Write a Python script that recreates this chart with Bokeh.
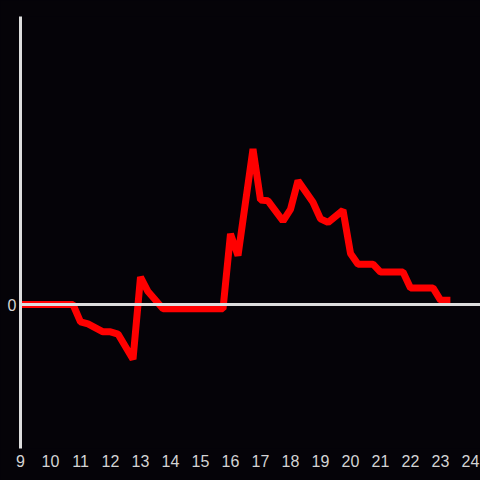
from bokeh.plotting import figure
from bokeh.models import Span, FixedTicker, Range1d
from bokeh.embed import file_html
from bokeh.resources import INLINE

# time of day (hours) and value
hours = [9.0, 10.75, 11.0, 11.25, 11.75, 12.0, 12.25, 12.75, 13.0, 13.25, 13.75,
         15.75, 16.0, 16.25, 16.75, 17.0, 17.25, 17.75, 18.0, 18.25, 18.75, 19.0,
         19.25, 19.75, 20.0, 20.25, 20.75, 21.0, 21.75, 22.0, 22.75, 23.0, 23.33]
values = [0.0, 0.0, -0.12, -0.135, -0.19, -0.19, -0.205, -0.38, 0.19, 0.09, -0.03,
          -0.03, 0.49, 0.34, 1.08, 0.725, 0.72, 0.58, 0.66, 0.86, 0.71, 0.595,
          0.57, 0.655, 0.355, 0.28, 0.28, 0.225, 0.225, 0.115, 0.115, 0.03, 0.03]
x_ticks = list(range(9, 25))
y_ticks = [0]

BG = "#050308"
AXIS = "#dddddd"
LABEL = "#d4d4d4"

p = figure(width=480, height=480, output_backend="svg", toolbar_location=None,
           x_range=Range1d(9, 24.3333), y_range=Range1d(-1, 2),
           min_border_left=20, min_border_right=0, min_border_top=16,
           min_border_bottom=32)
p.background_fill_color = BG
p.border_fill_color = BG
p.outline_line_color = None
p.grid.visible = False

p.add_layout(Span(location=0, dimension="width", line_color=AXIS, line_width=3))

p.line(hours, values, line_color="#ff0000", line_width=7)

xa = p.xaxis[0]
xa.ticker = FixedTicker(ticks=x_ticks)
xa.axis_line_color = None
xa.major_tick_line_color = None
xa.minor_tick_line_color = None
xa.major_tick_out = 0
xa.minor_tick_out = 0
xa.major_label_text_color = LABEL
xa.major_label_text_font = "Liberation Sans"
xa.major_label_text_font_size = "16px"
xa.major_label_standoff = 6

ya = p.yaxis[0]
ya.ticker = FixedTicker(ticks=y_ticks)
ya.axis_line_color = AXIS
ya.axis_line_width = 3
ya.major_tick_line_color = None
ya.minor_tick_line_color = None
ya.major_tick_out = 0
ya.minor_tick_out = 0
ya.major_label_text_color = LABEL
ya.major_label_text_font = "Liberation Sans"
ya.major_label_text_font_size = "16px"
ya.major_label_standoff = 4

html = file_html(p, INLINE)
html = html.replace("</head>", "<style>html,body{margin:0;padding:0;background:%s;overflow:hidden}</style></head>" % BG)
open("out.html", "w").write(html)
